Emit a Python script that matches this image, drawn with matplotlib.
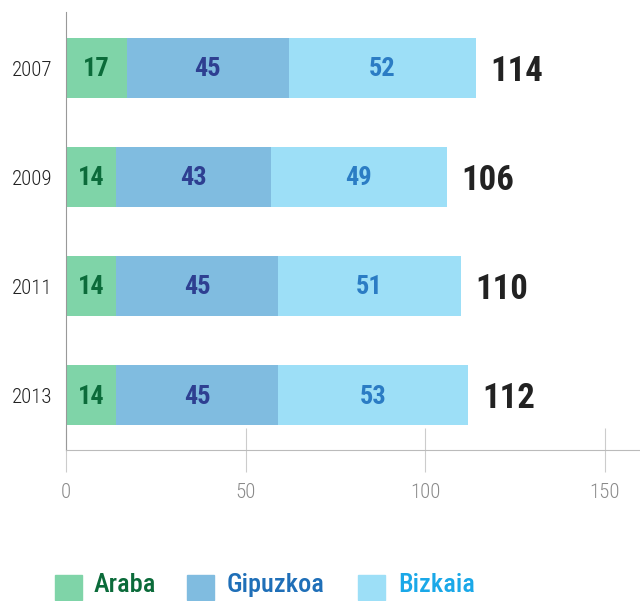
import matplotlib
matplotlib.use('Agg')
import matplotlib.pyplot as plt
from matplotlib import font_manager
from matplotlib.patches import Rectangle
import numpy as np

# pick a condensed family that also has a bold face
fonts = font_manager.fontManager.ttflist
cond = sorted(set(f.name for f in fonts if 'Condensed' in f.name or 'Narrow' in f.name))
bold_ok = [n for n in cond
           if any(f.name == n and (f.weight in ('bold', 700) or
                  (isinstance(f.weight, int) and f.weight >= 600)) for f in fonts)]
pref = ['Roboto Condensed', 'Liberation Sans Narrow', 'Noto Sans Condensed',
        'Open Sans Condensed']
main_font = next((n for n in pref if n in bold_ok), bold_ok[0] if bold_ok else
                 (cond[0] if cond else 'Roboto'))
plt.rcParams['font.family'] = [main_font, 'DejaVu Sans']

years = ['2007', '2009', '2011', '2013']
araba = [17, 14, 14, 14]
gipuzkoa = [45, 43, 45, 45]
bizkaia = [52, 49, 51, 53]
totals = [114, 106, 110, 112]

series = ['Araba', 'Gipuzkoa', 'Bizkaia']
fill = ['#7fd4a8', '#80bce0', '#9ddff7']
inbar_col = ['#0b6b3a', '#2e3f91', '#2b7cc4']
legend_col = ['#0b6b3a', '#1f6fb8', '#1aa8e8']

fig = plt.figure(figsize=(6.4, 6.01), dpi=100)
ax = fig.add_axes([66/640, 1-450/601, 1-66/640, (450-12)/601])

y = np.arange(len(years))
left = np.zeros(len(years))
for vals, c, tc in zip([araba, gipuzkoa, bizkaia], fill, inbar_col):
    vals = np.array(vals)
    ax.barh(y, vals, left=left, height=0.55, color=c)
    for yi, l, v in zip(y, left, vals):
        ax.text(l + v/2, yi + 0.01, str(v), ha='center', va='center',
                fontsize=19, fontweight='bold', color=tc)
    left = left + vals

for yi, l, t in zip(y, left, totals):
    ax.text(l + 4, yi + 0.03, str(t), ha='left', va='center',
            fontsize=25, fontweight='bold', color='#222222')

ax.set_xlim(0, (640-66)/3.593)
ax.set_ylim(3.5, -0.514)
ax.set_yticks(y)
ax.set_yticklabels(years, fontsize=15, color='#222222', fontweight='light')
ax.set_xticks([0, 50, 100, 150])
ax.set_xticklabels(['0', '50', '100', '150'], fontsize=15, color='#8a8a8a',
                   fontweight='light')

for s in ['top', 'right']:
    ax.spines[s].set_visible(False)
ax.spines['left'].set_color('#999999')
ax.spines['bottom'].set_color('#bbbbbb')
ax.tick_params(axis='y', length=0, pad=10)
ax.tick_params(axis='x', direction='inout', length=31, color='#cccccc', pad=8)

# legend
px = [55, 187, 358]
tx = [94, 227, 398]
for x0, x1, lab, c, tc in zip(px, tx, series, fill, legend_col):
    fig.patches.append(Rectangle((x0/640, 1-600/601), 27/640, 25/601,
                                 transform=fig.transFigure, color=c))
    fig.text(x1/640, 1-585/601, lab, ha='left', va='center',
             fontsize=19, fontweight='medium', color=tc)

fig.savefig('out.png', dpi=100)
